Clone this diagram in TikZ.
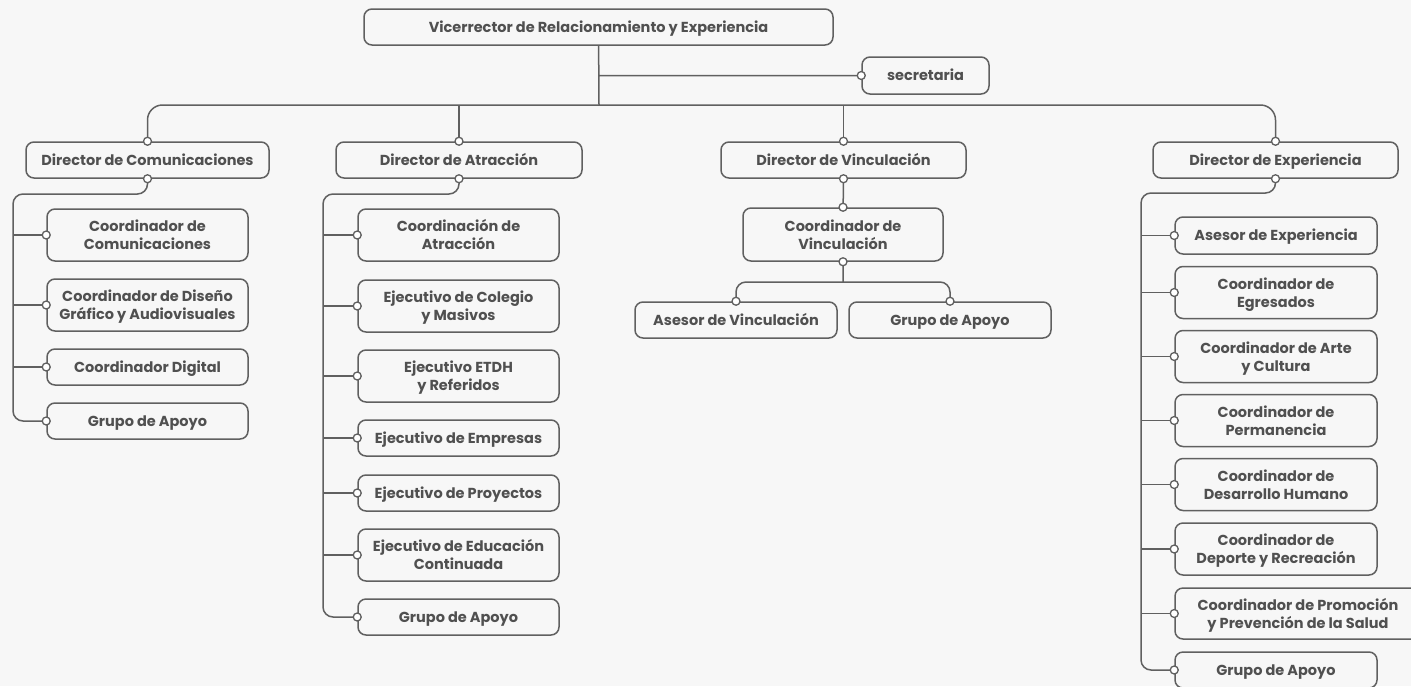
\documentclass[tikz,border=0pt]{standalone}
\usepackage{fontspec}
\setmainfont{Poppins}
\usepackage{tikz}
\definecolor{ln}{HTML}{606060}
\definecolor{tx}{HTML}{505050}
\definecolor{bg}{HTML}{F7F7F7}
\def\vo{node[circle, draw=ln, fill=white, line width=1.3pt, inner sep=0pt, minimum size=8pt]{}}
\tikzset{
  box/.style={draw=ln, fill=bg, text=tx, rounded corners=8pt, line width=1.5pt, align=center, inner sep=0pt, font=\bfseries\fontsize{14.5}{18}\selectfont},
  one/.style={box, minimum height=36pt, text height=10.5pt, text depth=0.5pt},
  two/.style={box, minimum height=52pt, text depth=0.5pt}
}

\begin{document}
\begin{tikzpicture}[x=1pt, y=-1pt, line width=1.5pt, color=ln]
        \fill[bg] (0,0) rectangle (1411,686);
        \useasboundingbox (0,0) rectangle (1411,686);
        \node[one, minimum width=469pt] (v) at (598.5,27) {Vicerrector de Relacionamiento y Experiencia};
        \node[one, minimum width=127pt, minimum height=37pt] (s) at (925.5,75.5) {secretaria};
        \node[one, minimum width=243pt] (dc) at (147.5,160) {Director de Comunicaciones};
        \node[one, minimum width=246pt] (da) at (459,160) {Director de Atracción};
        \node[one, minimum width=245pt] (dv) at (843.5,160) {Director de Vinculación};
        \node[one, minimum width=245pt] (de) at (1275.5,160) {Director de Experiencia};
        \node[two, minimum width=201pt] (c1) at (147.5,235) {Coordinador de\\Comunicaciones};
        \node[two, minimum width=201pt] (c2) at (147.5,305) {Coordinador de Diseño\\Gráfico y Audiovisuales};
        \node[one, minimum width=201pt] (c3) at (147.5,367) {Coordinador Digital};
        \node[one, minimum width=201pt] (c4) at (147.5,421) {Grupo de Apoyo};
        \node[two, minimum width=201pt] (a1) at (458.5,235) {Coordinación de\\Atracción};
        \node[two, minimum width=201pt] (a2) at (458.5,306) {Ejecutivo de Colegio\\y Masivos};
        \node[two, minimum width=201pt] (a3) at (458.5,376) {Ejecutivo ETDH\\y Referidos};
        \node[one, minimum width=201pt] (a4) at (458.5,438) {Ejecutivo de Empresas};
        \node[one, minimum width=201pt] (a5) at (458.5,493) {Ejecutivo de Proyectos};
        \node[two, minimum width=201pt] (a6) at (458.5,555) {Ejecutivo de Educación\\Continuada};
        \node[one, minimum width=201pt] (a7) at (458.5,617) {Grupo de Apoyo};
        \node[two, minimum width=200pt, minimum height=53pt] (cv) at (843,234.5) {Coordinador de\\Vinculación};
        \node[one, minimum width=202pt] (v1) at (736,320) {Asesor de Vinculación};
        \node[one, minimum width=202pt] (v2) at (950,320) {Grupo de Apoyo};
        \node[one, minimum width=202pt, minimum height=37pt] (e1) at (1276,235.5) {Asesor de Experiencia};
        \node[two, minimum width=202pt] (e2) at (1276,292.5) {Coordinador de\\Egresados};
        \node[two, minimum width=202pt] (e3) at (1276,356.5) {Coordinador de Arte\\y Cultura};
        \node[two, minimum width=202pt] (e4) at (1276,420.5) {Coordinador de\\Permanencia};
        \node[two, minimum width=202pt] (e5) at (1276,484.5) {Coordinador de\\Desarrollo Humano};
        \node[two, minimum width=202pt] (e6) at (1276,549) {Coordinador de\\Deporte y Recreación};
        \node[two, minimum width=246pt, minimum height=51pt] (e7) at (1298,613.5) {Coordinador de Promoción\\y Prevención de la Salud};
        \node[one, minimum width=202pt] (e8) at (1276,670) {Grupo de Apoyo};
        \coordinate (b) at (599,105);
        \coordinate (tc) at (13,194);
        \coordinate (ta) at (323,194);
        \coordinate (tv) at (843,282);
        \coordinate (te) at (1141,193);
        \draw (v) -- (b) (v.south |- s.west) -- (s.west);
        \draw[rounded corners=15pt] (dc.north) -- (dc.north |- b) -- (de.north |- b) -- (de.north);
        \draw (da.north) -- (da.north |- b) (dv.north) -- (dv.north |- b);
        \draw (dv) -- (cv) (cv) -- (cv.south |- tv);
        \draw[rounded corners=10pt] (v1.north) |- (tv) -| (v2.north);
        \draw[rounded corners=10pt] (dc.south) |- (tc) |- (c4.west);
        \draw[rounded corners=10pt] (da.south) |- (ta) |- (a7.west);
        \draw[rounded corners=10pt] (de.south) |- (te) |- (e8.west);
        \foreach \i in {1,...,3}{
        \draw (tc |- c\i.west) -- (c\i.west);
        }
        \foreach \i in {1,...,6}{
        \draw (ta |- a\i.west) -- (a\i.west);
        }
        \foreach \i in {1,...,7}{
        \draw (te |- e\i.west) -- (e\i.west);
        }
        \foreach \x in {s.west,dc.north,dc.south,da.north,da.south,dv.north,dv.south,de.north,de.south,cv.north,cv.south,v1.north,v2.north}{
        \draw (\x) \vo;
        }
        \foreach \i in {1,...,4}{
        \draw (c\i.west) \vo;
        }
        \foreach \i in {1,...,7}{
        \draw (a\i.west) \vo;
        }
        \foreach \i in {1,...,8}{
        \draw (e\i.west) \vo;
        }
      \end{tikzpicture}
\end{document}
